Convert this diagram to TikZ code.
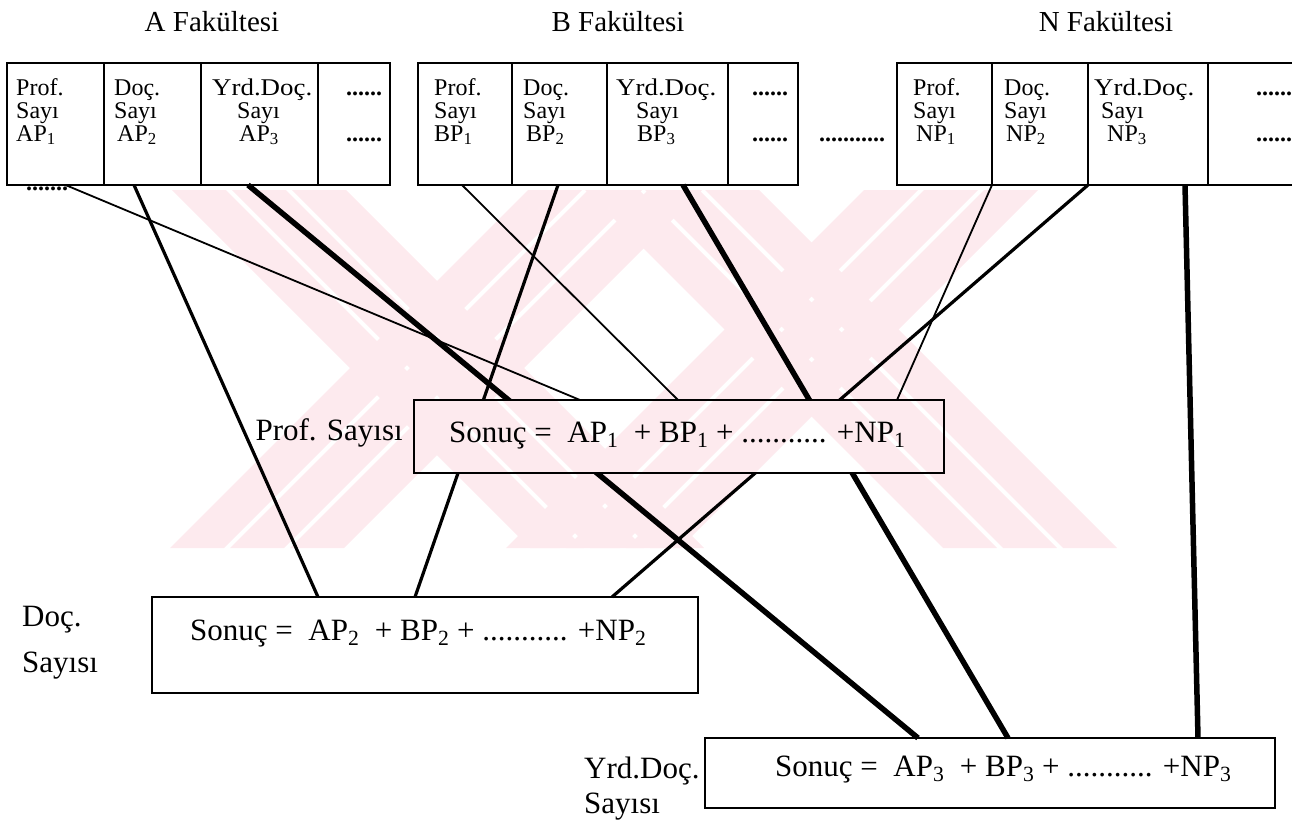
\documentclass[tikz,border=0pt]{standalone}
\usepackage{fontspec}
\setmainfont{Liberation Serif}
\definecolor{wmpink}{RGB}{253,234,238}
\newcommand\lowidx[1]{\textsubscript{#1}}
\newcommand\wideyd{\scalebox{1.12}[1]{Yrd.Doç.}}
% faint background stripes (two crossed bands of three stripes each)
\newcommand\wmstripes{%
  \foreach \c in {-18,42,102,395,455,515}
    {\fill[wmpink] (\c+190,190) -- (\c+244,190) -- (\c+602,548) -- (\c+548,548) -- cycle;}
  \foreach \c in {718,778,838,1054,1114,1174}
    {\fill[wmpink] (\c-190,190) -- (\c-136,190) -- (\c-494,548) -- (\c-548,548) -- cycle;}
}
\begin{document}
\begin{tikzpicture}[x=1pt,y=-1pt,
  cell/.style={draw, line width=2.3pt, fill=white, anchor=north west,
    inner sep=0pt, outer sep=0pt, minimum height=122pt},
  result/.style={draw, line width=2.4pt, fill=white, anchor=north west,
    inner sep=0pt, outer sep=0pt},
  small/.style={font=\fontsize{24}{24}\selectfont, anchor=base west, inner sep=0pt},
  big/.style={font=\fontsize{31}{36}\selectfont, anchor=base west, inner sep=0pt},
  title/.style={font=\fontsize{29}{34}\selectfont, anchor=base, inner sep=0pt},
  thinc/.style={line width=1.8pt},
  midc/.style={line width=3.2pt},
  thickc/.style={line width=5.5pt}]
\useasboundingbox (0,0) rectangle (1292,825);

% watermark band
\begin{scope}
  \clip (170,190) rectangle (1125,548);
  \wmstripes
\end{scope}

% faculty tables
\node[cell, minimum width=97pt]  (A1) at (7,63) {};
\node[cell, minimum width=97pt]  (A2) at (104,63) {};
\node[cell, minimum width=117pt] (A3) at (201,63) {};
\node[cell, minimum width=72pt]  (A4) at (318,63) {};
\node[cell, minimum width=94pt]  (B1) at (418,63) {};
\node[cell, minimum width=95pt]  (B2) at (512,63) {};
\node[cell, minimum width=121pt] (B3) at (607,63) {};
\node[cell, minimum width=70pt]  (B4) at (728,63) {};
\node[cell, minimum width=95pt]  (N1) at (897,63) {};
\node[cell, minimum width=96pt]  (N2) at (992,63) {};
\node[cell, minimum width=120pt] (N3) at (1088,63) {};
\node[cell, minimum width=102pt] (N4) at (1208,63) {};

% result boxes
\node[result, minimum width=530pt, minimum height=73pt] (prof) at (414,400) {};
\node[result, minimum width=546pt, minimum height=96pt] (doc)  at (152,597) {};
\node[result, minimum width=570pt, minimum height=70pt] (yrd)  at (705,738) {};

% connectors
\draw[thinc]  ([xshift=10pt]A1.south)   -- ([xshift=-99pt]prof.north);
\draw[midc]   ([xshift=-18.5pt]A2.south) -- ([xshift=-107pt]doc.north);
\draw[thickc] ([xshift=-11.5pt]A3.south) -- ([xshift=-72pt]yrd.north);
\draw[thinc]  ([xshift=-3pt]B1.south)    -- ([xshift=-1pt]prof.north);
\draw[midc]   ([xshift=-1.5pt]B2.south)  -- ([xshift=-10pt]doc.north);
\draw[thickc] ([xshift=15.5pt]B3.south)  -- ([xshift=18pt]yrd.north);
\draw[thinc]  (N1.south east)            -- ([xshift=218pt]prof.north);
\draw[midc]   (N2.south east)            -- ([xshift=187pt]doc.north);
\draw[thickc] ([xshift=37pt]N3.south)    -- ([xshift=208pt]yrd.north);

% the middle box hides the lines that pass behind it
\fill[white] (prof.south west) rectangle (prof.north east);
\begin{scope}
  \clip (prof.south west) rectangle (prof.north east);
  \wmstripes
\end{scope}
\draw[line width=2.4pt] (prof.south west) rectangle (prof.north east);

% titles
\node[title] (tA) at (212,31)  {A Fakültesi};
\node[title] (tB) at (618,31)  {B Fakültesi};
\node[title] (tN) at (1106,31) {N Fakültesi};

% cell texts
\node[small] (a1x) at (16,95)  {Prof.};
\node[small] (a1y) at (16,118) {Sayı};
\node[small] (a1z) at (16,141) {AP\lowidx{1}};
\node[small] (a1d) at (26,190) {\textbf{.......}};
\node[small] (a2x) at (114,95)  {Doç.};
\node[small] (a2y) at (114,118) {Sayı};
\node[small] (a2z) at (117,141) {AP\lowidx{2}};
\node[small] (a3x) at (212,95)  {\wideyd};
\node[small] (a3y) at (237,118) {Sayı};
\node[small] (a3z) at (239,141) {AP\lowidx{3}};
\node[small] (a4x) at (346,95)  {\textbf{......}};
\node[small] (a4y) at (346,141) {\textbf{......}};

\node[small] (b1x) at (434,95)  {Prof.};
\node[small] (b1y) at (434,118) {Sayı};
\node[small] (b1z) at (434,141) {BP\lowidx{1}};
\node[small] (b2x) at (523,95)  {Doç.};
\node[small] (b2y) at (523,118) {Sayı};
\node[small] (b2z) at (526,141) {BP\lowidx{2}};
\node[small] (b3x) at (616,95)  {\wideyd};
\node[small] (b3y) at (636,118) {Sayı};
\node[small] (b3z) at (637,141) {BP\lowidx{3}};
\node[small] (b4x) at (752,95)  {\textbf{......}};
\node[small] (b4y) at (752,141) {\textbf{......}};

\node[small] (gap) at (819,141) {\textbf{...........}};

\node[small] (n1x) at (913,95)  {Prof.};
\node[small] (n1y) at (913,118) {Sayı};
\node[small] (n1z) at (916,141) {NP\lowidx{1}};
\node[small] (n2x) at (1004,95)  {Doç.};
\node[small] (n2y) at (1004,118) {Sayı};
\node[small] (n2z) at (1006,141) {NP\lowidx{2}};
\node[small] (n3x) at (1094,95)  {\wideyd};
\node[small] (n3y) at (1101,118) {Sayı};
\node[small] (n3z) at (1107,141) {NP\lowidx{3}};
\node[small] (n4x) at (1256,95)  {\textbf{......}};
\node[small] (n4y) at (1256,141) {\textbf{......}};

% result texts and side labels
\node[big] (rP) at (449,442) {Sonuç =\ \ AP\lowidx{1}\ \ + BP\lowidx{1} + ........... +NP\lowidx{1}};
\node[big] (rD) at (190,640) {Sonuç =\ \ AP\lowidx{2}\ \ + BP\lowidx{2} + ........... +NP\lowidx{2}};
\node[big] (rY) at (775,776) {Sonuç =\ \ AP\lowidx{3}\ \ + BP\lowidx{3} + ........... +NP\lowidx{3}};

\node[big, anchor=base east] (lP) at (403,440) {Prof. Sayısı};
\node[big] (lD1) at (22,626) {Doç.};
\node[big] (lD2) at (22,672) {Sayısı};
\node[big] (lY1) at (584,778) {Yrd.Doç.};
\node[big] (lY2) at (584,813) {Sayısı};
\end{tikzpicture}
\end{document}
